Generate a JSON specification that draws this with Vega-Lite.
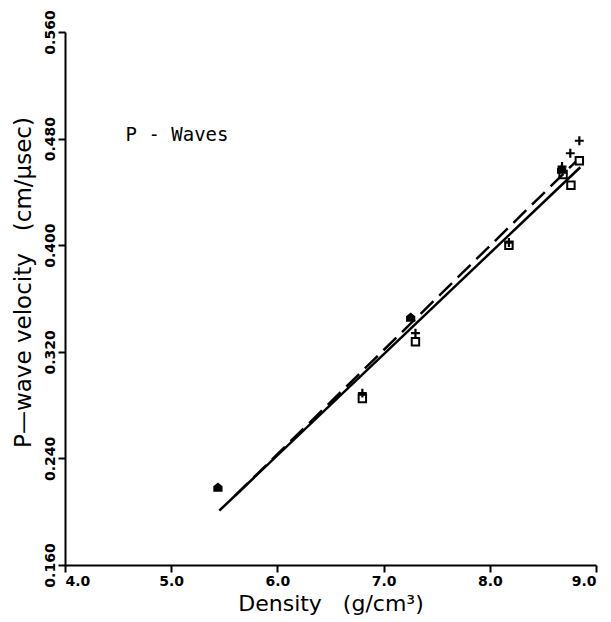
{
  "$schema": "https://vega.github.io/schema/vega-lite/v6.json",
  "width": 531,
  "height": 533,
  "autosize": {"type": "none"},
  "padding": {"left": 65, "top": 32, "right": 15, "bottom": 57},
  "background": "white",
  "config": {
    "view": {"stroke": null},
    "axis": {
      "grid": false,
      "domainColor": "black",
      "domainWidth": 2,
      "tickColor": "black",
      "tickWidth": 2,
      "tickSize": 7,
      "labelFont": "DejaVu Sans",
      "labelFontWeight": "bold",
      "labelFontSize": 14,
      "labelColor": "black",
      "titleFont": "DejaVu Sans",
      "titleFontWeight": "normal",
      "titleFontSize": 22,
      "titleColor": "black"
    }
  },
  "datasets": {
    "lines": [
      {"fit": "solid", "density": 5.453, "velocity": 0.2008},
      {"fit": "solid", "density": 8.852, "velocity": 0.4585},
      {"fit": "dashed", "density": 5.6, "velocity": 0.2119},
      {"fit": "dashed", "density": 8.81, "velocity": 0.4627}
    ],
    "points": [
      {"symbol": "filled", "density": 5.44, "velocity": 0.2185},
      {"symbol": "filled", "density": 7.255, "velocity": 0.346},
      {"symbol": "filled", "density": 8.676, "velocity": 0.457},
      {"symbol": "square", "density": 6.8, "velocity": 0.285},
      {"symbol": "square", "density": 7.3, "velocity": 0.3276},
      {"symbol": "square", "density": 8.18, "velocity": 0.4},
      {"symbol": "square", "density": 8.69, "velocity": 0.453},
      {"symbol": "square", "density": 8.764, "velocity": 0.445},
      {"symbol": "square", "density": 8.843, "velocity": 0.4634},
      {"symbol": "plus", "density": 6.8, "velocity": 0.289},
      {"symbol": "plus", "density": 7.3, "velocity": 0.334},
      {"symbol": "plus", "density": 8.18, "velocity": 0.402},
      {"symbol": "plus", "density": 8.68, "velocity": 0.459},
      {"symbol": "plus", "density": 8.758, "velocity": 0.469},
      {"symbol": "plus", "density": 8.843, "velocity": 0.4784}
    ],
    "notes": [
      {"label": "P - Waves", "density": 4.57, "velocity": 0.4827}
    ]
  },
  "layer": [
    {
      "data": {"name": "lines"},
      "transform": [{"filter": "datum.fit === 'solid'"}],
      "mark": {"type": "line", "color": "black", "strokeWidth": 2.5},
      "encoding": {
        "x": {
          "field": "density",
          "type": "quantitative",
          "scale": {"domain": [4, 9], "nice": false, "zero": false},
          "axis": {
            "values": [4, 5, 6, 7, 8, 9],
            "format": ".1f",
            "labelPadding": 2,
            "title": "Density\u00a0\u00a0\u00a0(g/cm³)",
            "titlePadding": 5
          }
        },
        "y": {
          "field": "velocity",
          "type": "quantitative",
          "scale": {"domain": [0.16, 0.56], "nice": false, "zero": false},
          "axis": {
            "values": [0.16, 0.24, 0.32, 0.4, 0.48, 0.56],
            "format": ".3f",
            "labelAngle": 270,
            "labelAlign": "center",
            "labelBaseline": "bottom",
            "labelPadding": 1,
            "title": "P\u2014wave velocity\u00a0\u00a0\u00a0(cm/\u00b5sec)",
            "titleFontSize": 23,
            "titlePadding": 8,
            "titleY": 250
          }
        }
      }
    },
    {
      "data": {"name": "lines"},
      "transform": [{"filter": "datum.fit === 'dashed'"}],
      "mark": {"type": "line", "color": "black", "strokeWidth": 2.5, "strokeDash": [18, 8]},
      "encoding": {
        "x": {"field": "density", "type": "quantitative"},
        "y": {"field": "velocity", "type": "quantitative"}
      }
    },
    {
      "data": {"name": "points"},
      "transform": [{"filter": "datum.symbol === 'square'"}],
      "mark": {"type": "point", "shape": "square", "filled": false, "color": "black", "strokeWidth": 2, "size": 55, "opacity": 1},
      "encoding": {
        "x": {"field": "density", "type": "quantitative"},
        "y": {"field": "velocity", "type": "quantitative"}
      }
    },
    {
      "data": {"name": "points"},
      "transform": [{"filter": "datum.symbol === 'plus'"}],
      "mark": {"type": "point", "shape": "M-1,0L1,0M0,-1L0,1", "filled": false, "color": "black", "strokeWidth": 2.2, "size": 80, "opacity": 1},
      "encoding": {
        "x": {"field": "density", "type": "quantitative"},
        "y": {"field": "velocity", "type": "quantitative"}
      }
    },
    {
      "data": {"name": "points"},
      "transform": [{"filter": "datum.symbol === 'filled'"}],
      "mark": {"type": "point", "shape": "M-1,1L-1,-0.2L0,-1L1,-0.2L1,1Z", "filled": true, "color": "black", "size": 85, "opacity": 1},
      "encoding": {
        "x": {"field": "density", "type": "quantitative"},
        "y": {"field": "velocity", "type": "quantitative"}
      }
    },
    {
      "data": {"name": "notes"},
      "mark": {"type": "text", "font": "DejaVu Sans Mono", "fontSize": 19, "align": "left", "baseline": "middle", "color": "black"},
      "encoding": {
        "x": {"field": "density", "type": "quantitative"},
        "y": {"field": "velocity", "type": "quantitative"},
        "text": {"field": "label", "type": "nominal"}
      }
    }
  ]
}
